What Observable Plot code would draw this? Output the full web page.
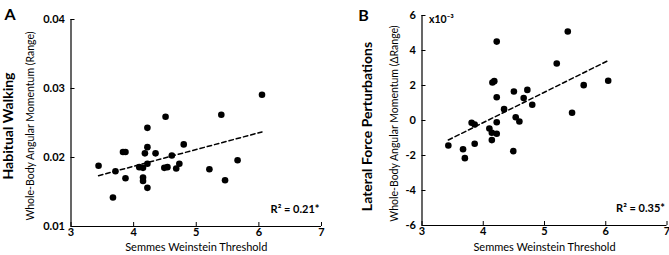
<!DOCTYPE html>
<html><head><meta charset="utf-8">
<script src="https://cdn.jsdelivr.net/npm/d3@7"></script>
<script src="https://cdn.jsdelivr.net/npm/@observablehq/plot@0.6"></script>
<style>
body{margin:0;background:#fff}
#wrap{position:relative;width:669px;height:255px;overflow:hidden;background:#fff}
#a,#b{position:absolute;top:0}
#a{left:0}
#b{left:335px}
</style></head><body><div id="wrap"><div id="a"></div><div id="b"></div></div>
<script>
// ---- data ----
const xTicks = [3, 4, 5, 6, 7];
const yTicksA = [0.01, 0.02, 0.03, 0.04];
const yTicksB = [-6, -4, -2, 0, 2, 4, 6];

// Panel A: Habitual walking
const thresholdA = [3.44,3.67,3.71,3.83,3.87,3.87,4.09,4.15,4.15,4.15,4.18,4.22,4.22,4.22,4.22,4.35,4.51,4.49,4.54,4.61,4.68,4.73,4.80,5.21,5.40,5.46,5.66,6.05];
const rangeA = [0.0188,0.0142,0.0180,0.0208,0.0208,0.0170,0.0186,0.0185,0.0171,0.0166,0.0206,0.0243,0.0215,0.0191,0.0156,0.0206,0.0259,0.0185,0.0186,0.0203,0.0184,0.0191,0.0219,0.0183,0.0262,0.0167,0.0196,0.0291];

// Panel B: Lateral force perturbations (x10^-3)
const thresholdB = [3.43,3.67,3.70,3.81,3.86,3.86,4.10,4.14,4.14,4.15,4.18,4.22,4.22,4.22,4.22,4.34,4.49,4.50,4.53,4.59,4.66,4.72,4.80,5.20,5.38,5.45,5.64,6.04];
const deltaB = [-1.43,-1.64,-2.15,-0.13,-0.23,-1.33,-0.46,-0.70,-1.12,2.17,2.25,4.51,1.33,-0.10,-0.76,0.65,-1.75,1.66,0.19,-0.06,1.28,1.75,0.90,3.26,5.09,0.44,2.02,2.27];

const panelLetters = ["A", "B"];
const rowTitles = ["Habitual Walking", "Lateral Force Perturbations"];
const yLabels = ["Whole-Body Angular Momentum (Range)", "Whole-Body Angular Momentum (\u0394Range)"];
const xLabel = "Semmes Weinstein Threshold";
const r2Labels = ["R\u00b2 = 0.21*", "R\u00b2 = 0.35*"];
const scaleNote = "x10\u207b\u00b3";

const FONT = "Lato, 'Open Sans', sans-serif";

function panel(cfg) {
  const data = cfg.xs.map((x, i) => ({x, y: cfg.ys[i]}));
  return Plot.plot({
    width: cfg.width, height: 255,
    marginLeft: cfg.ml, marginRight: cfg.mr, marginTop: cfg.mt, marginBottom: cfg.mb,
    style: {fontFamily: FONT, fontSize: "11px", background: "white", overflow: "visible"},
    x: {domain: [xTicks[0], xTicks[xTicks.length - 1]]},
    y: {domain: [cfg.yTicks[0], cfg.yTicks[cfg.yTicks.length - 1]]},
    marks: [
      Plot.axisX({ticks: xTicks, tickSize: -4, tickPadding: 6, label: null, tickFormat: d => String(d), fontWeight: "bold", fontSize: 11}),
      Plot.axisY({ticks: cfg.yTicks, tickSize: -4, tickPadding: 10, label: null, tickFormat: cfg.fmt, fontWeight: "bold", fontSize: 11}),
      Plot.ruleX([xTicks[0]], {strokeWidth: 1.2}),
      Plot.ruleY([cfg.yTicks[0]], {strokeWidth: 1.2}),
      Plot.dot(data, {x: "x", y: "y", r: 3.3, fill: "black", stroke: "none"}),
      Plot.linearRegressionY(data, {x: "x", y: "y", ci: 0, stroke: "black", strokeWidth: 1.5, strokeDasharray: "4.5,3"}),
      Plot.text([cfg.r2], {frameAnchor: "bottom-right", textAnchor: "end", dx: -2, dy: -14, fontSize: 11, fontWeight: "bold"}),
      Plot.text([xLabel], {frameAnchor: "bottom", textAnchor: "middle", dy: cfg.xlabDy, fontSize: 11}),
      Plot.text([cfg.ylab], {frameAnchor: "left", textAnchor: "middle", rotate: -90, dx: cfg.ylabDx, dy: cfg.ylabDy, fontSize: 10.5}),
      Plot.text([cfg.title], {frameAnchor: "left", textAnchor: "middle", rotate: -90, dx: cfg.titleDx, dy: cfg.titleDy, fontSize: 14, fontWeight: "bold"}),
      Plot.text([cfg.letter], {frameAnchor: "top-left", textAnchor: "middle", dx: cfg.letterDx, dy: cfg.letterDy, fontSize: 16, fontWeight: "bold"}),
      ...(cfg.note ? [Plot.text([cfg.note], {frameAnchor: "top-left", textAnchor: "start", dx: 7, dy: 0, fontSize: 10.5, fontWeight: "bold"})] : [])
    ]
  });
}

document.getElementById("a").append(panel({
  width: 335, ml: 70.5, mr: 14, mt: 19, mb: 29,
  xs: thresholdA, ys: rangeA, yTicks: yTicksA, fmt: d3.format(".2f"),
  r2: r2Labels[0], ylab: yLabels[0], title: rowTitles[0], letter: panelLetters[0],
  xlabDy: 24, ylabDx: -40, ylabDy: 3, titleDx: -62.5, titleDy: 3, letterDx: -61, letterDy: -11
}));

document.getElementById("b").append(panel({
  width: 334, ml: 86.5, mr: 2.5, mt: 15, mb: 30,
  xs: thresholdB, ys: deltaB, yTicks: yTicksB, fmt: d => String(d),
  r2: r2Labels[1], ylab: yLabels[1], title: rowTitles[1], letter: panelLetters[1],
  xlabDy: 25, ylabDx: -27.5, ylabDy: 3, titleDx: -54.5, titleDy: 6, letterDx: -58.5, letterDy: -6,
  note: scaleNote
}));
</script>
</body></html>
